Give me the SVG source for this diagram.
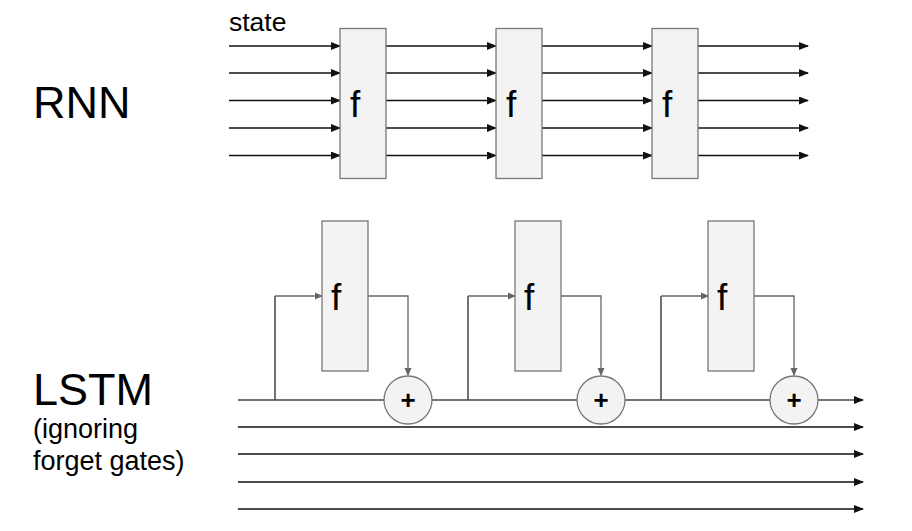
<svg xmlns="http://www.w3.org/2000/svg" width="912" height="531" viewBox="0 0 912 531">
<defs>
<marker id="ah" markerWidth="10" markerHeight="8" refX="9" refY="4" orient="auto" markerUnits="userSpaceOnUse"><path d="M0,0 L10,4 L0,8 Z" fill="#111"/></marker>
<marker id="ahg" markerWidth="8" markerHeight="8" refX="7" refY="4" orient="auto" markerUnits="userSpaceOnUse"><path d="M0,0.5 L8,4 L0,7.5 Z" fill="#666"/></marker>
<style>
text{font-family:"Liberation Sans",Arial,sans-serif;fill:#000}
.box{fill:#f3f3f3;stroke:#777;stroke-width:1.3}
.circ{fill:#f3f3f3;stroke:#777;stroke-width:1.3}
.ln{stroke:#111;stroke-width:1.4;fill:none}
.gl{stroke:#666;stroke-width:1.3;fill:none}
.main{stroke:#444;stroke-width:1.5;fill:none}
.f{font-size:37px}
.plus{font-size:26px;font-weight:bold}
</style>
</defs>
<rect width="912" height="531" fill="#fff"/>
<text x="33" y="118" font-size="45">RNN</text>
<text x="33" y="405" font-size="45">LSTM</text>
<text x="33" y="438" font-size="27">(ignoring</text>
<text x="33" y="470" font-size="27">forget gates)</text>
<text x="229" y="31" font-size="26.5">state</text>
<g id="connectors">
<g class="ln" marker-end="url(#ah)">
<path d="M229,46 H340"/><path d="M229,73 H340"/><path d="M229,100.5 H340"/><path d="M229,128 H340"/><path d="M229,155.5 H340"/>
<path d="M386,46 H496"/><path d="M386,73 H496"/><path d="M386,100.5 H496"/><path d="M386,128 H496"/><path d="M386,155.5 H496"/>
<path d="M542,46 H652"/><path d="M542,73 H652"/><path d="M542,100.5 H652"/><path d="M542,128 H652"/><path d="M542,155.5 H652"/>
<path d="M698,46 H808"/><path d="M698,73 H808"/><path d="M698,100.5 H808"/><path d="M698,128 H808"/><path d="M698,155.5 H808"/>
</g>
<path class="main" d="M238,400 H384 M432,400 H577 M625,400 H770"/>
<path class="main" d="M818,400 H863" marker-end="url(#ah)"/>
<g class="ln" marker-end="url(#ah)">
<path d="M238,427 H863"/>
<path d="M238,454 H863"/>
<path d="M238,482 H863"/>
<path d="M238,509 H863"/>
</g>
<path class="main" d="M275,400 V296 M468,400 V296 M661,400 V296"/>
<g class="gl" marker-end="url(#ahg)">
<path d="M275,296 H322"/>
<path d="M468,296 H515"/>
<path d="M661,296 H708"/>
<path d="M368,296 H408 V375"/>
<path d="M561,296 H601 V375"/>
<path d="M754,296 H794 V375"/>
</g>
</g>
<g id="rnn-f1"><rect class="box" x="340" y="28.5" width="46" height="150"/><text class="f" x="350" y="117">f</text></g>
<g id="rnn-f2"><rect class="box" x="496" y="28.5" width="46" height="150"/><text class="f" x="506" y="117">f</text></g>
<g id="rnn-f3"><rect class="box" x="652" y="28.5" width="46" height="150"/><text class="f" x="662" y="117">f</text></g>
<g id="lstm-f1"><rect class="box" x="322" y="221" width="46" height="150"/><text class="f" x="331" y="310">f</text></g>
<g id="lstm-f2"><rect class="box" x="515" y="221" width="46" height="150"/><text class="f" x="524" y="310">f</text></g>
<g id="lstm-f3"><rect class="box" x="708" y="221" width="46" height="150"/><text class="f" x="717" y="310">f</text></g>
<g id="plus1"><circle class="circ" cx="408" cy="400" r="24"/><text class="plus" x="408" y="409" text-anchor="middle">+</text></g>
<g id="plus2"><circle class="circ" cx="601" cy="400" r="24"/><text class="plus" x="601" y="409" text-anchor="middle">+</text></g>
<g id="plus3"><circle class="circ" cx="794" cy="400" r="24"/><text class="plus" x="794" y="409" text-anchor="middle">+</text></g>
</svg>
